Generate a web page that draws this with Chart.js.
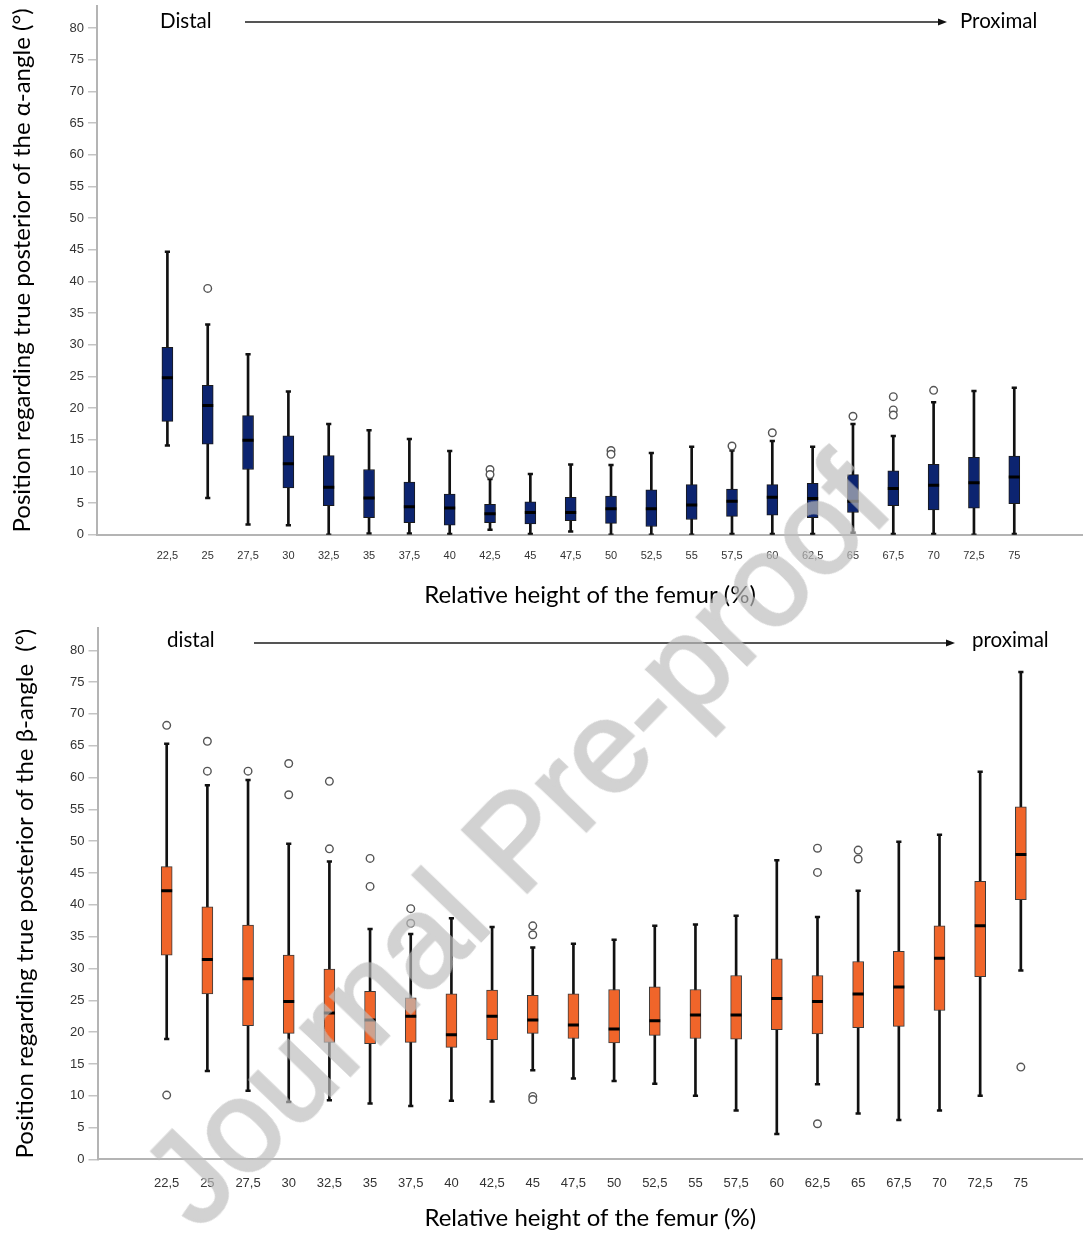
<!DOCTYPE html>
<html>
<head>
<meta charset="utf-8">
<script src="https://cdn.jsdelivr.net/npm/chart.js@4.4.1/dist/chart.umd.min.js"></script>
<style>
  html, body { margin: 0; padding: 0; background: #fff; }
  #wrap { position: relative; width: 1083px; height: 1235px; overflow: hidden; }
  canvas { position: absolute; left: 0; }
  #alphaChart { top: 0; }
  #betaChart { top: 612px; }
  .watermark {
    position: absolute; left: 515px; top: 840px;
    font: 130px 'Liberation Sans', Arial, sans-serif;
    color: #bdbdbd;
    -webkit-text-stroke: 3px #bdbdbd;
    opacity: 0.68;
    white-space: nowrap; pointer-events: none;
    transform: translate(-50%, -50%) rotate(-46deg);
  }
</style>
</head>
<body>
<div id="wrap">
  <canvas id="alphaChart" width="1083" height="612"></canvas>
  <canvas id="betaChart" width="1083" height="623"></canvas>
  <div class="watermark">Journal Pre-proof</div>
</div>
<script>
// relative height of the femur (%), one box per level
const heights = [22.5, 25, 27.5, 30, 32.5, 35, 37.5, 40, 42.5, 45, 47.5, 50, 52.5, 55, 57.5, 60, 62.5, 65, 67.5, 70, 72.5, 75];

// alpha-angle boxes (degrees)
const alphaLow    = [14.1, 5.8, 1.6, 1.5, 0, 0.2, 0.2, 0.1, 0.8, 0.1, 0.5, 0, 0, 0, 0.1, 0.1, 0.1, 0.3, 0.1, 0.1, 0, 0.1];
const alphaQ1     = [17.9, 14.3, 10.3, 7.4, 4.6, 2.7, 1.9, 1.5, 1.9, 1.7, 2.2, 1.8, 1.3, 2.4, 2.9, 3.1, 2.7, 3.5, 4.6, 3.9, 4.2, 4.9];
const alphaMedian = [24.8, 20.4, 14.9, 11.2, 7.5, 5.8, 4.4, 4.2, 3.3, 3.5, 3.5, 4.1, 4.1, 4.7, 5.3, 5.9, 5.7, 5.3, 7.3, 7.8, 8.2, 9.1];
const alphaQ3     = [29.6, 23.6, 18.8, 15.6, 12.5, 10.3, 8.3, 6.4, 4.8, 5.2, 5.9, 6.1, 7.1, 7.9, 7.2, 7.9, 8.1, 9.5, 10.1, 11.1, 12.2, 12.4];
const alphaHigh   = [44.7, 33.2, 28.5, 22.6, 17.5, 16.5, 15.1, 13.2, 8.8, 9.6, 11.1, 11.0, 12.9, 13.9, 13.3, 14.8, 13.9, 17.5, 15.6, 20.9, 22.7, 23.2];
const alphaOutlierX = [25, 42.5, 42.5, 50, 50, 57.5, 60, 65, 67.5, 67.5, 67.5, 70];
const alphaOutlierY = [38.9, 10.3, 9.5, 13.3, 12.7, 14.0, 16.1, 18.7, 21.8, 19.7, 18.9, 22.8];

// beta-angle boxes (degrees)
const betaLow    = [18.9, 13.9, 10.8, 9.0, 9.3, 8.8, 8.4, 9.2, 9.1, 14.0, 12.7, 12.3, 11.9, 10.0, 7.7, 4.0, 11.8, 7.2, 6.2, 7.7, 10.0, 29.7];
const betaQ1     = [32.1, 26.0, 21.0, 19.8, 18.4, 18.2, 18.4, 17.6, 18.8, 19.8, 19.0, 18.3, 19.5, 19.0, 18.9, 20.4, 19.7, 20.7, 20.9, 23.4, 28.7, 40.8];
const betaMedian = [42.2, 31.4, 28.4, 24.8, 23.0, 21.9, 22.5, 19.6, 22.5, 21.9, 21.1, 20.5, 21.8, 22.7, 22.7, 25.3, 24.8, 26.0, 27.1, 31.6, 36.7, 47.9];
const betaQ3     = [46.0, 39.7, 36.8, 32.1, 29.9, 26.4, 25.4, 26.0, 26.6, 25.8, 26.0, 26.7, 27.1, 26.7, 28.9, 31.5, 28.9, 31.1, 32.7, 36.7, 43.7, 55.4];
const betaHigh   = [65.3, 58.8, 59.6, 49.6, 46.8, 36.2, 35.4, 37.9, 36.5, 33.3, 33.9, 34.5, 36.7, 36.9, 38.3, 47.0, 38.1, 42.2, 49.9, 51.0, 60.9, 76.6];
const betaOutlierX = [22.5, 22.5, 25, 25, 27.5, 30, 30, 32.5, 32.5, 35, 35, 37.5, 37.5, 45, 45, 45, 45, 62.5, 62.5, 62.5, 65, 65, 75];
const betaOutlierY = [68.2, 10.1, 65.7, 61.0, 61.0, 62.2, 57.3, 59.4, 48.8, 47.3, 42.9, 39.4, 37.1, 36.7, 35.3, 9.9, 9.4, 48.9, 45.1, 5.6, 48.6, 47.2, 14.5];

const yTicksMax = 83.5;
const titleFont = { family: 'Lato', size: 24 };

// Draws the "distal -> proximal" arrow across the top of each plot
const directionPlugin = {
    id: 'direction',
    afterDraw(chart, args, opts) {
        const ctx = chart.ctx;
        ctx.save();
        ctx.font = '20.5px Lato';
        ctx.fillStyle = '#000';
        ctx.textBaseline = 'middle';
        ctx.textAlign = 'left';
        ctx.fillText(opts.left, opts.leftX, opts.textY);
        ctx.fillText(opts.right, opts.rightX, opts.textY);
        ctx.strokeStyle = '#555';
        ctx.lineWidth = 2;
        ctx.beginPath();
        ctx.moveTo(opts.x1, opts.lineY);
        ctx.lineTo(opts.x2 - 6, opts.lineY);
        ctx.stroke();
        ctx.fillStyle = '#111';
        ctx.beginPath();
        ctx.moveTo(opts.x2, opts.lineY);
        ctx.lineTo(opts.x2 - 9, opts.lineY - 3.5);
        ctx.lineTo(opts.x2 - 9, opts.lineY + 3.5);
        ctx.closePath();
        ctx.fill();
        ctx.restore();
    }
};

function buildBoxChart(canvasId, s) {
    const pts = (xs, ys) => xs.map((x, i) => ({ x: x, y: ys[i] }));
    const ctx = document.getElementById(canvasId).getContext('2d');

    return new Chart(ctx, {
        type: 'bar',
        data: {
            datasets: [
                {   // whiskers
                    data: heights.map((h, i) => ({ x: h, y: [s.low[i], s.high[i]] })),
                    backgroundColor: '#111',
                    borderWidth: 0,
                    barThickness: 2,
                    grouped: false,
                    order: 5
                },
                {   // boxes (q1..q3)
                    data: heights.map((h, i) => ({ x: h, y: [s.q1[i], s.q3[i]] })),
                    backgroundColor: s.boxColor,
                    borderColor: s.boxBorder,
                    borderWidth: 1,
                    borderSkipped: false,
                    barThickness: 11,
                    grouped: false,
                    order: 4
                },
                {   // whisker caps
                    type: 'scatter',
                    data: pts(heights, s.low).concat(pts(heights, s.high)),
                    pointStyle: 'line',
                    radius: 2.6,
                    borderWidth: 2.5,
                    borderColor: '#111',
                    order: 3
                },
                {   // medians
                    type: 'scatter',
                    data: pts(heights, s.median),
                    pointStyle: 'line',
                    radius: 5.5,
                    borderWidth: 3,
                    borderColor: '#000',
                    order: 2
                },
                {   // outliers
                    type: 'scatter',
                    data: pts(s.outX, s.outY),
                    pointStyle: 'circle',
                    radius: 3.8,
                    borderWidth: 1.4,
                    borderColor: '#555',
                    backgroundColor: '#fff',
                    order: 1
                }
            ]
        },
        options: {
            responsive: false,
            animation: false,
            events: [],
            layout: { autoPadding: false, padding: { top: s.padTop, left: 0, right: 0, bottom: 0 } },
            plugins: {
                legend: { display: false },
                tooltip: { enabled: false },
                direction: s.direction
            },
            scales: {
                x: {
                    type: 'linear',
                    min: s.xMin,
                    max: s.xMax,
                    offset: false,
                    grid: { display: false },
                    border: { color: '#b4b4b4', width: 2 },
                    afterBuildTicks: sc => { sc.ticks = heights.map(v => ({ value: v })); },
                    ticks: {
                        autoSkip: false,
                        maxRotation: 0,
                        padding: s.xTickPad,
                        color: '#333',
                        font: { family: 'Liberation Sans', size: s.xTickSize },
                        callback: v => String(v).replace('.', ',')
                    },
                    title: {
                        display: true,
                        text: 'Relative height of the femur (%)',
                        color: '#000',
                        font: titleFont,
                        padding: { top: 0, bottom: 2.6 }
                    },
                    afterFit: sc => { sc.height = s.xAxisHeight; sc.paddingLeft = 0; sc.paddingRight = 0; }
                },
                y: {
                    min: 0,
                    max: yTicksMax,
                    ticks: {
                        stepSize: 5,
                        includeBounds: false,
                        padding: 4,
                        color: '#333',
                        font: { family: 'Liberation Sans', size: 13 }
                    },
                    grid: { display: true, drawOnChartArea: false, drawTicks: true, tickLength: 9, color: '#c4c4c4', lineWidth: 1.5 },
                    border: { color: '#b4b4b4', width: 2 },
                    title: {
                        display: true,
                        text: s.yTitle,
                        color: '#000',
                        font: titleFont,
                        padding: { top: s.yTitlePad, bottom: 0 }
                    },
                    afterFit: sc => { sc.width = s.yAxisWidth; sc.paddingTop = 0; sc.paddingBottom = 0; }
                }
            }
        },
        plugins: [directionPlugin]
    });
}

buildBoxChart('alphaChart', {
    low: alphaLow, q1: alphaQ1, median: alphaMedian, q3: alphaQ3, high: alphaHigh,
    outX: alphaOutlierX, outY: alphaOutlierY,
    boxColor: '#0c2470', boxBorder: '#1a1a1a',
    xMin: 18.136, xMax: 79.26, padTop: 6,
    xAxisHeight: 77.3, xTickPad: 7, xTickSize: 11,
    yAxisWidth: 97, yTitlePad: 8,
    yTitle: 'Position regarding true posterior of the α-angle (°)',
    direction: { left: 'Distal', right: 'Proximal', leftX: 160, rightX: 960, textY: 21, x1: 245, x2: 947, lineY: 22 }
});

buildBoxChart('betaChart', {
    low: betaLow, q1: betaQ1, median: betaMedian, q3: betaQ3, high: betaHigh,
    outX: betaOutlierX, outY: betaOutlierY,
    boxColor: '#f0652a', boxBorder: '#3a3a3a',
    xMin: 18.247, xMax: 78.82, padTop: 16,
    xAxisHeight: 75.6, xTickPad: 8, xTickSize: 13,
    yAxisWidth: 97.5, yTitlePad: 11,
    yTitle: 'Position regarding true posterior of the β-angle  (°)',
    direction: { left: 'distal', right: 'proximal', leftX: 167, rightX: 972, textY: 28, x1: 254, x2: 955, lineY: 31 }
});
</script>
</body>
</html>
